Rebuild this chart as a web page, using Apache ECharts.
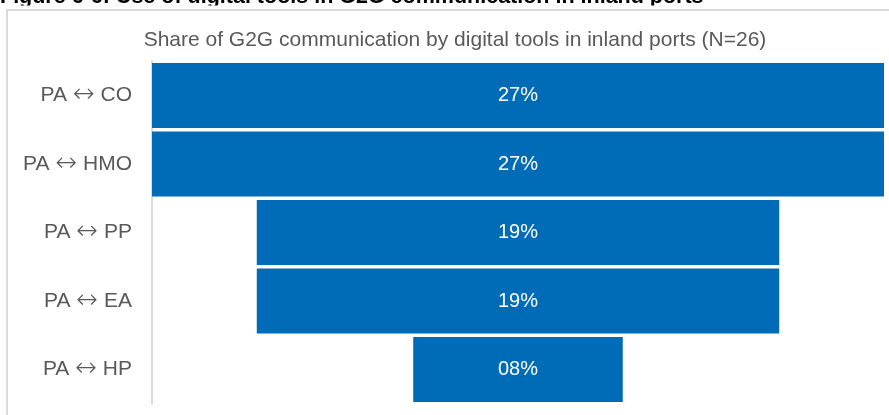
<!DOCTYPE html>
<html>
<head>
<meta charset="utf-8">
<script src="https://cdn.jsdelivr.net/npm/echarts@6/dist/echarts.min.js"></script>
<style>
  html, body { margin: 0; padding: 0; background: #fff; }
  #chart { width: 889px; height: 415px; }
</style>
</head>
<body>
<div id="chart"></div>
<script>
// Port authority (PA) links and their share of digitally handled G2G communication
const categories = ['PA \u2194 CO', 'PA \u2194 HMO', 'PA \u2194 PP', 'PA \u2194 EA', 'PA \u2194 HP'];
const shares = [26.9, 26.9, 19.2, 19.2, 7.7];

const figureTitle = 'Figure 6-6: Use of digital tools in G2G communication in inland ports';
const chartTitle = 'Share of G2G communication by digital tools in inland ports (N=26)';

const maxShare = Math.max(...shares);
// invisible spacer so each bar sits centred on the widest one
const spacer = shares.map(v => (maxShare - v) / 2);

const fmtPct = v => String(Math.round(v)).padStart(2, '0') + '%';
const FONT = '"Liberation Sans", Arial, sans-serif';
const ARROW = '\u2194';

// render the two-headed arrow in a lighter, wider glyph
const fmtLink = s => s.split(ARROW).map(part => '{t|' + part + '}').join('{arr|' + ARROW + '}');

const chart = echarts.init(document.getElementById('chart'), null, { renderer: 'canvas' });
chart.setOption({
  animation: false,
  backgroundColor: '#ffffff',
  graphic: [
    {
      // figure caption, running off the top edge of the page
      type: 'text',
      style: {
        x: 0, y: -2.5,
        text: figureTitle,
        font: 'bold 21.5px ' + FONT,
        fill: '#000000',
        verticalAlign: 'middle'
      },
      z: 10
    },
    {
      // white chart area below the caption
      type: 'rect',
      shape: { x: 0, y: 5.5, width: 889, height: 420 },
      style: { fill: '#ffffff' },
      z: 11
    },
    {
      type: 'rect',
      shape: { x: 7, y: 10, width: 920, height: 500 },
      style: { fill: 'none', stroke: '#d9d9d9', lineWidth: 2 },
      z: 12
    },
    {
      type: 'text',
      style: {
        x: 455, y: 40,
        text: chartTitle,
        font: '21px ' + FONT,
        fill: '#595959',
        align: 'center',
        verticalAlign: 'middle'
      },
      z: 13
    }
  ],
  grid: { left: 152, right: 5, top: 61.25, bottom: 11.25, containLabel: false },
  xAxis: {
    type: 'value',
    min: 0,
    max: maxShare,
    show: false
  },
  yAxis: {
    type: 'category',
    data: categories,
    inverse: true,
    z: 20,
    axisLine: { show: true, lineStyle: { color: '#d9d9d9', width: 2 } },
    axisTick: { show: false },
    axisLabel: {
      margin: 20,
      formatter: fmtLink,
      rich: {
        t: { color: '#595959', fontSize: 21, fontFamily: FONT },
        arr: { color: '#595959', fontSize: 26, fontWeight: 200, fontFamily: '"DejaVu Sans", sans-serif' }
      }
    }
  },
  series: [
    {
      type: 'bar',
      stack: 'funnel',
      data: spacer,
      itemStyle: { color: 'transparent' },
      barWidth: '95%',
      silent: true,
      z: 20
    },
    {
      type: 'bar',
      stack: 'funnel',
      data: shares,
      barWidth: '95%',
      z: 21,
      itemStyle: { color: '#006bb6' },
      label: {
        show: true,
        position: 'inside',
        color: '#ffffff',
        fontSize: 20,
        fontFamily: FONT,
        formatter: p => fmtPct(p.value)
      }
    }
  ]
});
</script>
</body>
</html>
